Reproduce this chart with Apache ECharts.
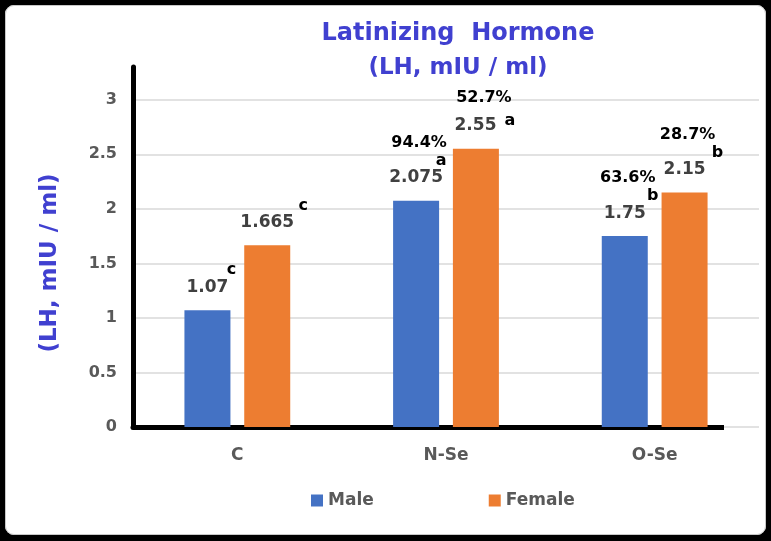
<!DOCTYPE html>
<html>
<head>
<meta charset="utf-8">
<script src="https://cdn.jsdelivr.net/npm/echarts@6/dist/echarts.min.js"></script>
<style>
html, body { margin: 0; padding: 0; background: #fff; overflow: hidden; }
#chart { width: 771px; height: 541px; }
#frame {
  position: absolute; left: 5px; top: 5px; width: 761px; height: 530px;
  box-sizing: border-box; border: 1px solid #c8c8c8; border-radius: 9px;
  box-shadow: 0 0 0 14px #000; pointer-events: none;
}
</style>
</head>
<body>
<div id="chart"></div>
<div id="frame"></div>
<script>
// data
const categories = ['C', 'N-Se', 'O-Se'];
const maleValues = [1.07, 2.075, 1.75];
const femaleValues = [1.665, 2.55, 2.15];
const malePct = ['', '94.4%', '63.6%'];
const femalePct = ['', '52.7%', '28.7%'];
const maleLetters = ['c', 'a', 'b'];
const femaleLetters = ['c', 'a', 'b'];

// label layout (how far right the letter sits, and whether it is on the value line)
const maleShift = [24, 25, 28];
const femaleShift = [36, 32, 33];
const maleInline = [false, false, false];
const femaleInline = [false, true, false];

const FONT = '"DejaVu Sans", sans-serif';
const TITLE_BLUE = '#4040d0';
const GREY = '#595959';

function richFor(shifts) {
  const bold = { fontFamily: FONT, fontWeight: 'bold' };
  const r = {
    v: { ...bold, fontSize: 17, color: '#404040', lineHeight: 22 },
    vi: { ...bold, fontSize: 17, color: '#404040', lineHeight: 22, padding: [0, 0, 0, 18] },
    si: { ...bold, fontSize: 16, color: '#000', lineHeight: 22, padding: [0, 0, 10, 8] },
    p: { ...bold, fontSize: 16, color: '#000', lineHeight: 24, padding: [0, 0, 0, 6] },
    p2: { ...bold, fontSize: 16, color: '#000', lineHeight: 34, padding: [0, 0, 0, 16] }
  };
  shifts.forEach(function (d, i) {
    r['s' + i] = { ...bold, fontSize: 16, color: '#000', lineHeight: 12, padding: [0, 0, 0, 2 * d] };
  });
  return r;
}

function makeLabel(pcts, letters, inline) {
  return function (p) {
    const i = p.dataIndex;
    const lines = [];
    if (inline[i]) {
      if (pcts[i]) lines.push('{p2|' + pcts[i] + '}');
      lines.push('{vi|' + p.value + '}{si|' + letters[i] + '}');
    } else {
      if (pcts[i]) lines.push('{p|' + pcts[i] + '}');
      lines.push('{s' + i + '|' + letters[i] + '}');
      lines.push('{v|' + p.value + '}');
    }
    return lines.join('\n');
  };
}

const chart = echarts.init(document.getElementById('chart'));

// black x axis stops short of the right edge; the grey zero gridline shows past it
const xAxisColor = new echarts.graphic.LinearGradient(0, 0, 1, 0, [
  { offset: 0, color: '#000' },
  { offset: 0.94, color: '#000' },
  { offset: 0.94, color: 'rgba(0,0,0,0)' },
  { offset: 1, color: 'rgba(0,0,0,0)' }
]);

chart.setOption({
  animation: false,
  textStyle: { fontFamily: FONT },
  title: {
    text: '{a|Latinizing  Hormone}\n{b|(LH, mIU / ml)}',
    left: 453,
    top: 12,
    textAlign: 'center',
    textStyle: {
      rich: {
        a: { fontFamily: FONT, fontSize: 24, fontWeight: 'bold', color: TITLE_BLUE, lineHeight: 34 },
        b: { fontFamily: FONT, fontSize: 23, fontWeight: 'bold', color: TITLE_BLUE, lineHeight: 34 }
      }
    }
  },
  legend: {
    data: ['Male', 'Female'],
    left: 306,
    top: 487,
    icon: 'rect',
    itemWidth: 12,
    itemHeight: 12,
    itemGap: 115,
    textStyle: { fontFamily: FONT, fontSize: 17, fontWeight: 'bold', color: GREY }
  },
  grid: { left: 133, right: 12, top: 67, bottom: 114 },
  xAxis: {
    type: 'category',
    data: categories,
    axisLine: { lineStyle: { color: xAxisColor, width: 5 } },
    axisTick: { show: false },
    axisLabel: { margin: 20, fontFamily: FONT, fontSize: 17, fontWeight: 'bold', color: GREY }
  },
  yAxis: {
    type: 'value',
    min: 0,
    max: 3.3,
    interval: 0.5,
    name: '(LH, mIU / ml)',
    nameLocation: 'middle',
    nameGap: 71,
    nameTextStyle: {
      fontFamily: FONT, fontSize: 23, fontWeight: 'bold', color: TITLE_BLUE,
      padding: [0, 32, 0, 0]
    },
    axisLine: { show: true, lineStyle: { color: '#000', width: 5 } },
    axisTick: { show: false },
    axisLabel: { showMaxLabel: false, margin: 16, fontFamily: FONT, fontSize: 16, fontWeight: 'bold', color: GREY },
    splitLine: { showMaxLine: false, lineStyle: { color: '#d9d9d9', width: 1.5 } }
  },
  series: [
    {
      name: 'Male',
      type: 'bar',
      data: maleValues,
      barWidth: 46,
      barGap: '30%',
      itemStyle: { color: '#4472c4' },
      label: {
        show: true,
        position: 'top',
        distance: 12,
        formatter: makeLabel(malePct, maleLetters, maleInline),
        rich: richFor(maleShift)
      }
    },
    {
      name: 'Female',
      type: 'bar',
      data: femaleValues,
      barWidth: 46,
      barGap: '30%',
      itemStyle: { color: '#ed7d31' },
      label: {
        show: true,
        position: 'top',
        distance: 12,
        formatter: makeLabel(femalePct, femaleLetters, femaleInline),
        rich: richFor(femaleShift)
      }
    }
  ]
});
</script>
</body>
</html>
